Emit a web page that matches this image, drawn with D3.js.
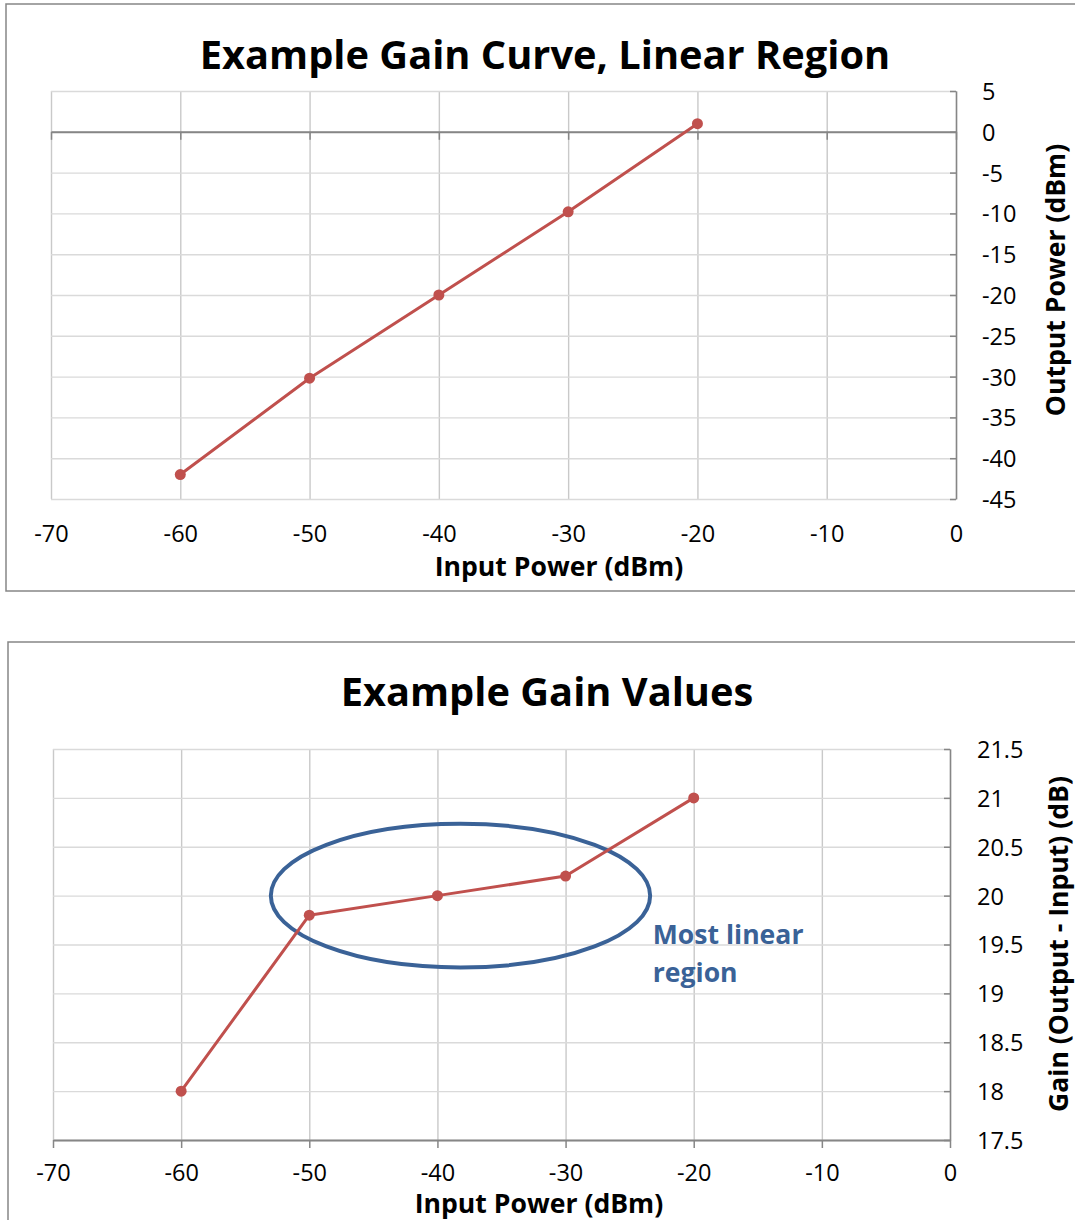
<!DOCTYPE html>
<html>
<head>
<meta charset="utf-8">
<script src="https://cdn.jsdelivr.net/npm/d3@7"></script>
<style>
  html, body { margin: 0; padding: 0; background: #fff; }
  svg { display: block; font-family: "Open Sans", Lato, sans-serif; }
</style>
</head>
<body>
<svg id="page" width="1075" height="1220"></svg>
<script>
// Measured amplifier sweep: input drive level vs. output level and gain
const inputPower = [-60, -50, -40, -30, -20];
const outputPower = [-42, -30.2, -20, -9.8, 1];
const gainValues = [18, 19.8, 20, 20.2, 21];

// Axis tick values
const inputTicks = [-70, -60, -50, -40, -30, -20, -10, 0];
const outputTicks = [5, 0, -5, -10, -15, -20, -25, -30, -35, -40, -45];
const gainTicks = [17.5, 18, 18.5, 19, 19.5, 20, 20.5, 21, 21.5];

// Text
const titleCurve = "Example Gain Curve, Linear Region";
const titleGain = "Example Gain Values";
const xTitle = "Input Power (dBm)";
const yTitleCurve = "Output Power (dBm)";
const yTitleGain = "Gain (Output - Input) (dB)";
const noteLines = ["Most linear", "region"];

const FONT = "Open Sans";
const RED = "#c0504d";
const AXIS = "#868686";
const GRID_V = "#c9c9c9";
const GRID_H = "#dadada";
const NOTE = "#3a6297";
const TICK_SIZE = 23.5;
const TITLE_SIZE = 39.8;
const AXIS_TITLE_SIZE = 26.6;

const svg = d3.select("#page");

function drawChart(o) {
  const g = svg.append("g");

  // chart frame
  g.append("rect")
    .attr("x", o.frame.x).attr("y", o.frame.y)
    .attr("width", o.frame.w).attr("height", o.frame.h)
    .attr("fill", "#fff").attr("stroke", AXIS).attr("stroke-width", 1.5);

  const x = d3.scaleLinear().domain([-70, 0]).range([o.left, o.right]);
  const y = d3.scaleLinear().domain(o.yDomain).range([o.bottom, o.top]);

  // vertical gridlines
  g.append("g").attr("transform", `translate(0,${o.bottom})`)
    .call(d3.axisBottom(x).tickValues(inputTicks).tickSize(-(o.bottom - o.top)).tickFormat(""))
    .call(s => s.select(".domain").remove())
    .call(s => s.selectAll("line").attr("stroke", GRID_V).attr("stroke-width", 1.4));

  // horizontal gridlines
  g.append("g").attr("transform", `translate(${o.left},0)`)
    .call(d3.axisLeft(y).tickValues(o.yTicks).tickSize(-(o.right - o.left)).tickFormat(""))
    .call(s => s.select(".domain").remove())
    .call(s => s.selectAll("line").attr("stroke", GRID_H).attr("stroke-width", 1.4));

  // right value axis with inward ticks
  g.append("g").attr("transform", `translate(${o.right},0)`)
    .call(d3.axisRight(y).tickValues(o.yTicks).tickSize(-6).tickSizeOuter(0)
      .tickPadding(o.yLabelPad).tickFormat(d => String(d)))
    .call(s => s.select(".domain").attr("stroke", AXIS).attr("stroke-width", 1.5))
    .call(s => s.selectAll("line").attr("stroke", AXIS).attr("stroke-width", 1.5))
    .call(s => s.selectAll("text").attr("font-family", FONT).attr("font-size", TICK_SIZE)
      .attr("fill", "#000").attr("dy", "0.36em"));

  // horizontal axis line, crossing the value axis at o.xCross
  const yc = y(o.xCross);
  g.append("g").attr("transform", `translate(0,${yc})`)
    .call(d3.axisBottom(x).tickValues(inputTicks).tickSize(8).tickSizeOuter(0).tickFormat(""))
    .call(s => s.select(".domain").attr("stroke", AXIS).attr("stroke-width", 2))
    .call(s => s.selectAll("line").attr("stroke", AXIS).attr("stroke-width", 1.5));

  // category labels kept at the bottom of the plot
  g.append("g").attr("transform", `translate(0,${o.xLabelY})`)
    .call(d3.axisBottom(x).tickValues(inputTicks).tickSize(0).tickPadding(0).tickFormat(d => String(d)))
    .call(s => s.select(".domain").remove())
    .call(s => s.selectAll("text").attr("font-family", FONT).attr("font-size", TICK_SIZE)
      .attr("fill", "#000").attr("y", 0).attr("dy", 0));

  // titles
  g.append("text").attr("x", o.titleX).attr("y", o.titleY)
    .attr("text-anchor", "middle").attr("font-weight", "bold").attr("font-size", TITLE_SIZE)
    .text(o.title);
  g.append("text").attr("x", o.xTitleX).attr("y", o.xTitleY)
    .attr("text-anchor", "middle").attr("font-weight", "bold").attr("font-size", AXIS_TITLE_SIZE)
    .text(xTitle);
  g.append("text")
    .attr("transform", `translate(${o.yTitleX},${o.yTitleY}) rotate(-90)`)
    .attr("text-anchor", "middle").attr("font-weight", "bold").attr("font-size", AXIS_TITLE_SIZE)
    .text(o.yTitle);

  if (o.extra) o.extra(g, x, y);

  // series line and markers
  const pts = inputPower.map((v, i) => [v, o.values[i]]);
  g.append("path").datum(pts)
    .attr("fill", "none").attr("stroke", RED).attr("stroke-width", 3)
    .attr("stroke-linejoin", "round")
    .attr("d", d3.line().x(d => x(d[0])).y(d => y(d[1])));
  g.selectAll("circle.pt").data(pts).join("circle")
    .attr("class", "pt")
    .attr("cx", d => x(d[0])).attr("cy", d => y(d[1])).attr("r", 5.5)
    .attr("fill", RED);
}

drawChart({
  frame: { x: 6, y: 4, w: 1080, h: 587 },
  left: 51, right: 956, top: 91, bottom: 499,
  yDomain: [-45, 5], yTicks: outputTicks, yLabelPad: 26,
  xCross: 0, xLabelY: 542,
  values: outputPower,
  title: titleCurve, titleX: 545, titleY: 69,
  xTitleX: 559, xTitleY: 576,
  yTitle: yTitleCurve, yTitleX: 1065, yTitleY: 280
});

drawChart({
  frame: { x: 8, y: 642, w: 1080, h: 600 },
  left: 53, right: 950, top: 749, bottom: 1140,
  yDomain: [17.5, 21.5], yTicks: gainTicks, yLabelPad: 27,
  xCross: 17.5, xLabelY: 1181,
  values: gainValues,
  title: titleGain, titleX: 547, titleY: 706,
  xTitleX: 539, xTitleY: 1213,
  yTitle: yTitleGain, yTitleX: 1068, yTitleY: 944,
  extra: (g, x, y) => {
    // highlight around the flattest stretch of the gain curve
    const c = { x: -38.2, y: 20.0, rx: 14.8, ry: 0.735 };
    g.append("ellipse")
      .attr("cx", x(c.x)).attr("cy", y(c.y))
      .attr("rx", x(c.x + c.rx) - x(c.x)).attr("ry", y(c.y - c.ry) - y(c.y))
      .attr("fill", "none").attr("stroke", NOTE).attr("stroke-width", 4);
    g.selectAll("text.note").data(noteLines).join("text")
      .attr("class", "note")
      .attr("x", x(-23.2))
      .attr("y", (d, i) => y(19.51) + i * 38)
      .attr("font-weight", "bold").attr("font-size", AXIS_TITLE_SIZE).attr("fill", NOTE)
      .text(d => d);
  }
});
</script>
</body>
</html>
